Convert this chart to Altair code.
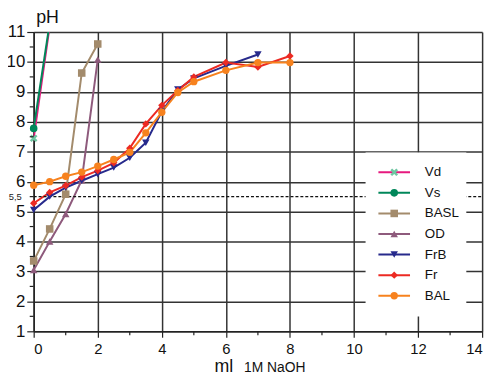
import altair as alt
import pandas as pd

# ---------------- data ----------------
series_names = ["Vd", "Vs", "BASL", "OD", "FrB", "Fr", "BAL"]
line_colors = ["#e6197e", "#00875a", "#a38b6c", "#8e5a7c", "#272a8c", "#ec2a23", "#f7821e"]
marker_colors = ["#6fc6a2", "#00875a", "#a38b6c", "#8e5a7c", "#272a8c", "#ec2a23", "#f7821e"]

vd_ml = [0, 0.5]
vd_ph = [7.45, 11.2]

vs_ml = [0, 0.5]
vs_ph = [7.78, 11.3]

basl_ml = [0, 0.5, 1, 1.5, 2]
basl_ph = [3.35, 4.42, 5.58, 9.63, 10.6]

od_ml = [0, 0.5, 1, 1.5, 2]
od_ph = [3.05, 4.0, 4.92, 6.05, 10.08]

frb_ml = [0, 0.5, 1, 1.5, 2, 2.5, 3, 3.5, 4, 4.5, 5, 6, 7]
frb_ph = [5.05, 5.5, 5.8, 6.03, 6.25, 6.47, 6.8, 7.3, 8.34, 9.08, 9.45, 9.87, 10.25]

fr_ml = [0, 0.5, 1, 1.5, 2, 2.5, 3, 3.5, 4, 4.5, 5, 6, 7, 8]
fr_ph = [5.28, 5.64, 5.87, 6.15, 6.37, 6.63, 7.12, 7.93, 8.55, 9.05, 9.5, 9.98, 9.83, 10.2]

bal_ml = [0, 0.5, 1, 1.5, 2, 2.5, 3, 3.5, 4, 4.5, 5, 6, 7, 8]
bal_ph = [5.88, 6.0, 6.18, 6.32, 6.52, 6.74, 6.98, 7.63, 8.32, 8.98, 9.34, 9.72, 9.98, 9.98]

x_ticks = [0, 2, 4, 6, 8, 10, 12, 14]
y_ticks = [1, 2, 3, 4, 5, 6, 7, 8, 9, 10, 11]
x_minor = [1, 3, 5, 7, 9, 11, 13]
y_minor = [1.5, 2.5, 3.5, 4.5, 5.5, 6.5, 7.5, 8.5, 9.5, 10.5]
ref_level = [5.5]
ref_label = ["5,5"]

# ---------------- styling ----------------
FONT = "Liberation Sans"
W, H = 454, 303
X_PATH = "M-1,-0.55L-0.55,-1L0,-0.45L0.55,-1L1,-0.55L0.45,0L1,0.55L0.55,1L0,0.45L-0.55,1L-1,0.55L-0.45,0Z"
marker_shapes = [X_PATH, "circle", "square", "triangle-up", "triangle-down", "diamond", "circle"]
marker_sizes = [60, 55, 50, 45, 50, 22, 55]

rows = []
for name, xs, ys in [("Vd", vd_ml, vd_ph), ("Vs", vs_ml, vs_ph), ("BASL", basl_ml, basl_ph),
                     ("OD", od_ml, od_ph), ("FrB", frb_ml, frb_ph), ("Fr", fr_ml, fr_ph),
                     ("BAL", bal_ml, bal_ph)]:
    for i, (a, b) in enumerate(zip(xs, ys)):
        rows.append({"series": name, "ml": a, "pH": b, "idx": i})
df = pd.DataFrame(rows)

xscale = alt.Scale(domain=[0, 14], nice=False, zero=False)
yscale = alt.Scale(domain=[1, 11], nice=False, zero=False)
color_scale = alt.Scale(domain=series_names, range=line_colors)
fill_scale = alt.Scale(domain=series_names, range=marker_colors)
shape_scale = alt.Scale(domain=series_names, range=marker_shapes)
size_scale = alt.Scale(domain=series_names, range=marker_sizes)

x_axis = alt.Axis(
    values=x_ticks, grid=True, gridColor="#333333", gridWidth=1.5, tickSize=6,
    tickColor="#222222", tickWidth=1.2, domainColor="#222222", domainWidth=1.5,
    labelFontSize=15, labelPadding=4, labelFont=FONT, labelColor="#111111",
    labelOverlap=False, title=None)
y_axis = alt.Axis(
    values=y_ticks, grid=True, gridColor="#333333", gridWidth=1.5, tickSize=7,
    tickColor="#222222", tickWidth=1.2, domainColor="#222222", domainWidth=1.5,
    labelFontSize=17, labelPadding=2, labelFont=FONT, labelColor="#111111",
    labelOverlap=False,
    title="pH", titleAngle=0, titleAlign="left", titleBaseline="alphabetic",
    titleX=2, titleY=-10, titleFontSize=18, titleFontWeight="normal", titleFont=FONT,
    titleColor="#111111")


def X(field):
    return alt.X(field, scale=xscale, axis=x_axis)


def Y(field):
    return alt.Y(field, scale=yscale, axis=y_axis)


lines = alt.Chart(df).mark_line(strokeWidth=2, clip=True).encode(
    x=X("ml:Q"), y=Y("pH:Q"),
    color=alt.Color("series:N", scale=color_scale, legend=None),
    order="idx:Q")

points = alt.Chart(df).transform_filter("datum.pH <= 11").mark_point(
    filled=True, opacity=1, strokeWidth=0).encode(
    x=X("ml:Q"), y=Y("pH:Q"),
    fill=alt.Fill("series:N", scale=fill_scale, legend=None),
    shape=alt.Shape("series:N", scale=shape_scale, legend=None),
    size=alt.Size("series:N", scale=size_scale, legend=None))

ref_df = pd.DataFrame({"level": ref_level, "label": ref_label})
ref_rule = alt.Chart(ref_df).mark_rule(color="#111111", strokeDash=[3, 2], strokeWidth=1.3).encode(
    y=Y("level:Q"), x=alt.value(0), x2=alt.value(W))
ref_text = alt.Chart(ref_df).mark_text(align="right", baseline="middle", fontSize=9.5,
                                       font=FONT, color="#222222").encode(
    y=Y("level:Q"), x=alt.value(-12), text="label:N")

ymin_df = pd.DataFrame({"v": y_minor})
xmin_df = pd.DataFrame({"v": x_minor})
y_minor_ticks = alt.Chart(ymin_df).mark_rule(color="#222222", strokeWidth=1.2).encode(
    y=Y("v:Q"), x=alt.value(-4), x2=alt.value(0))
x_minor_ticks = alt.Chart(xmin_df).mark_rule(color="#222222", strokeWidth=1.2).encode(
    x=X("v:Q"), y=alt.value(H), y2=alt.value(H + 4))

title_df = pd.DataFrame({"t1": ["ml"], "t2": ["1M NaOH"]})
title_ml = alt.Chart(title_df).mark_text(align="left", baseline="alphabetic", fontSize=18,
                                         font=FONT, color="#111111").encode(
    x=alt.value(183), y=alt.value(H + 41), text="t1:N")
title_naoh = alt.Chart(title_df).mark_text(align="left", baseline="alphabetic", fontSize=14,
                                           font=FONT, color="#111111").encode(
    x=alt.value(213), y=alt.value(H + 41), text="t2:N")

plot = alt.layer(lines, ref_rule, points, ref_text, y_minor_ticks, x_minor_ticks,
                 title_ml, title_naoh)

# ---------------- legend (drawn through its own point scale) ----------------
leg_df = pd.DataFrame({"series": series_names})
leg_y = alt.Y("series:N", scale=alt.Scale(type="point", domain=series_names,
                                          range=[142, 267], padding=0), axis=None)
box = alt.Chart(pd.DataFrame({"k": [0]})).mark_rect(fill="white").encode(
    x=alt.value(336), x2=alt.value(438), y=alt.value(122), y2=alt.value(288))
leg_lines = alt.Chart(leg_df).mark_rule(strokeWidth=2).encode(
    y=leg_y, x=alt.value(349), x2=alt.value(381),
    color=alt.Color("series:N", scale=color_scale, legend=None))
leg_pts = alt.Chart(leg_df).mark_point(filled=True, opacity=1, strokeWidth=0).encode(
    y=leg_y, x=alt.value(365),
    fill=alt.Fill("series:N", scale=fill_scale, legend=None),
    shape=alt.Shape("series:N", scale=shape_scale, legend=None),
    size=alt.Size("series:N", scale=size_scale, legend=None))
leg_text = alt.Chart(leg_df).mark_text(align="left", baseline="middle", fontSize=13.5,
                                       font=FONT, color="#111111").encode(
    y=leg_y, x=alt.value(396), text="series:N")
legend = alt.layer(box, leg_lines, leg_pts, leg_text)

chart = alt.layer(plot, legend).resolve_scale(y="independent").properties(
    width=W, height=H,
    autosize=alt.AutoSizeParams(type="none"),
    padding={"left": 26, "top": 22, "right": 10, "bottom": 48},
    background="white",
).configure_view(stroke=None)

chart.save("out.html", embed_options={"renderer": "svg", "actions": False})
